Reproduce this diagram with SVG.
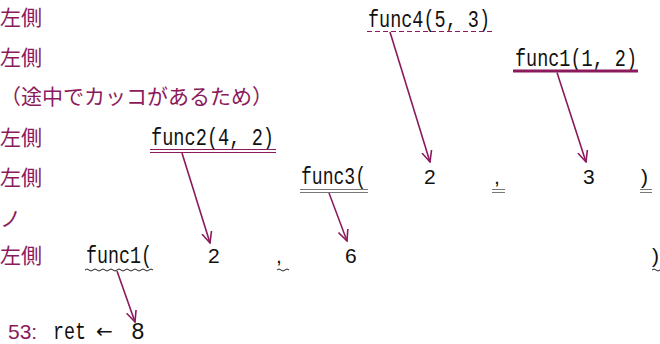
<svg xmlns="http://www.w3.org/2000/svg" width="660" height="344" viewBox="0 0 660 344">
<style>
.jp{font-family:"Noto Sans CJK JP","Noto Sans",sans-serif;font-size:21px;fill:#8b1a5c}
.code{font-family:"Liberation Mono",monospace;font-size:23px;fill:#111}
.num{font-family:"Liberation Sans",Arial,sans-serif;font-size:21px;fill:#111}
.conn{stroke:#8b1a5c;stroke-width:1.6;fill:none}
.ul{stroke:#8b1a5c;fill:none}
.gray{stroke:#777;stroke-width:1;fill:none}
.wave{stroke:#222;stroke-width:1;fill:none}
</style>
<defs>
<marker id="ah" viewBox="0 0 12 12" refX="11" refY="6" markerWidth="12" markerHeight="12" markerUnits="userSpaceOnUse" orient="auto">
<path d="M0,1 L11,6 L0,11" fill="none" stroke="#8b1a5c" stroke-width="1.6"/>
</marker>
</defs>
<g id="labels">
<text class="jp" x="0" y="25">左側</text>
<text class="jp" x="0" y="65">左側</text>
<text class="jp" x="0" y="104">（途中でカッコがあるため）</text>
<text class="jp" x="0" y="145">左側</text>
<text class="jp" x="0" y="185">左側</text>
<text class="jp" x="0" y="226" font-size="15">ノ</text>
<text class="jp" x="0" y="263">左側</text>
</g>
<g id="n-func4">
<text class="code" x="368" y="27" textLength="122" lengthAdjust="spacingAndGlyphs">func4(5, 3)</text>
<line class="ul" x1="367" y1="31.5" x2="492" y2="31.5" stroke-width="1.2" stroke-dasharray="5 3"/>
</g>
<g id="n-func1b">
<text class="code" x="515" y="66" textLength="122" lengthAdjust="spacingAndGlyphs">func1(1, 2)</text>
<line class="ul" x1="513" y1="71" x2="638" y2="71" stroke-width="3"/>
</g>
<g id="n-func2">
<text class="code" x="151" y="145" textLength="123" lengthAdjust="spacingAndGlyphs">func2(4, 2)</text>
<line class="ul" x1="150" y1="149.5" x2="276" y2="149.5" stroke-width="1"/>
<line class="ul" x1="150" y1="152.5" x2="276" y2="152.5" stroke-width="1"/>
</g>
<g id="n-func3">
<text class="code" x="301" y="184" textLength="65" lengthAdjust="spacingAndGlyphs">func3(</text>
<line class="gray" x1="300" y1="189.5" x2="368" y2="189.5"/>
<line class="gray" x1="300" y1="192.5" x2="368" y2="192.5"/>
<text class="num" x="424" y="184">2</text>
<text class="num" x="494" y="184">,</text>
<line class="gray" x1="492" y1="189.5" x2="505" y2="189.5"/>
<line class="gray" x1="492" y1="192.5" x2="505" y2="192.5"/>
<text class="num" x="583" y="184">3</text>
<text class="num" x="641" y="184">)</text>
<line class="gray" x1="640" y1="189.5" x2="652" y2="189.5"/>
<line class="gray" x1="640" y1="192.5" x2="652" y2="192.5"/>
</g>
<g id="n-func1a">
<text class="code" x="86" y="263" textLength="66" lengthAdjust="spacingAndGlyphs">func1(</text>
<path class="wave" d="M85,270 q2,-2 4,0 t4,0 t4,0 t4,0 t4,0 t4,0 t4,0 t4,0 t4,0 t4,0 t4,0 t4,0 t4,0 t4,0 t4,0 t4,0 t4,0"/>
<text class="num" x="208" y="263">2</text>
<text class="num" x="276" y="263">,</text>
<path class="wave" d="M277,270 q2,-2 4,0 t4,0 t4,0"/>
<text class="num" x="345" y="263">6</text>
<text class="num" x="652" y="263">)</text>
<path class="wave" d="M652,270 q2,-2 4,0 t4,0"/>
</g>
<g id="n-result">
<text class="num" x="8" y="339" font-size="22" style="fill:#8b1a5c">53:</text>
<text class="code" x="53" y="339" textLength="33" lengthAdjust="spacingAndGlyphs">ret</text>
<text x="96" y="338" font-family="DejaVu Sans, sans-serif" font-size="20" fill="#111">←</text>
<text class="code" x="131" y="339">8</text>
</g>
<g id="connectors">
<line class="conn" x1="390" y1="32" x2="430" y2="162" marker-end="url(#ah)"/>
<line class="conn" x1="557" y1="72.5" x2="586" y2="162" marker-end="url(#ah)"/>
<line class="conn" x1="182" y1="153" x2="210" y2="243" marker-end="url(#ah)"/>
<line class="conn" x1="329" y1="193" x2="347" y2="241" marker-end="url(#ah)"/>
<line class="conn" x1="117" y1="271" x2="135" y2="322" marker-end="url(#ah)"/>
</g>
</svg>
